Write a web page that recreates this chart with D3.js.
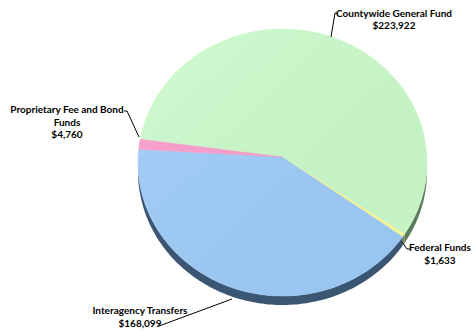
<!DOCTYPE html>
<html>
<head>
<meta charset="utf-8">
<script src="https://cdn.jsdelivr.net/npm/d3@7"></script>
<style>
  body { margin: 0; background: #fff; }
  .lbl { font-family: Lato, "Open Sans", sans-serif; font-weight: bold; font-size: 10px; fill: #000; }
</style>
</head>
<body>
<svg id="chart" width="473" height="331"></svg>
<script>
var categories = ["Countywide General Fund", "Federal Funds", "Interagency Transfers", "Proprietary Fee and Bond Funds"];
var values = [223922, 1633, 168099, 4760];
var topColors = ["#ccfccc", "#fcfc9c", "#9ecdfa", "#fc9ccc"];
var sideColors = ["#5b7c5b", "#7c7c4c", "#3b5673", "#7c4c64"];

var svg = d3.select("#chart");

var cx = 282.5, cy = 162.5
  , rx = 144.5, ry = 133.5
  , ax = 282, ay = 157   // point where slices meet
  , depth = 9;

function rim(a) { return [cx + rx * Math.sin(a), cy - ry * Math.cos(a)]; }

var rad = Math.PI / 180;
var pie = d3.pie().sort(null)
    .startAngle(-80 * rad)
    .endAngle(280 * rad);
var arcs = pie(values);

var defs = svg.append("defs");
var shade = defs.append("linearGradient").attr("id", "shade")
    .attr("x1", 0).attr("y1", 0).attr("x2", 1).attr("y2", 1);
shade.append("stop").attr("offset", 0).attr("stop-color", "#fff").attr("stop-opacity", 0.12);
shade.append("stop").attr("offset", 1).attr("stop-color", "#000").attr("stop-opacity", 0.03);

function arcPts(a0, a1, dy) {
  var n = Math.max(2, Math.ceil((a1 - a0) / (1 * rad)));
  return d3.range(n + 1).map(function(i) {
    var p = rim(a0 + (a1 - a0) * i / n);
    return [p[0], p[1] + dy];
  });
}

// side walls (front half only)
var sides_g = svg.append("g");
arcs.forEach(function(d, i) {
  [[90, 270], [450, 630]].forEach(function(r) {
    var a0 = Math.max(d.startAngle, r[0] * rad), a1 = Math.min(d.endAngle, r[1] * rad);
    if (a1 <= a0) return;
    var pts = arcPts(a0, a1, 0).concat(arcPts(a0, a1, depth).reverse());
    sides_g.append("path")
        .attr("d", d3.line()(pts) + "Z")
        .attr("fill", sideColors[i]);
  });
});

// top face
var face_g = svg.append("g");
arcs.forEach(function(d, i) {
  var pts = [[ax, ay]].concat(arcPts(d.startAngle, d.endAngle, 0));
  face_g.append("path")
      .attr("d", d3.line()(pts) + "Z")
      .attr("fill", topColors[i])
      .attr("stroke", topColors[i])
      .attr("stroke-width", 0.5);
});
face_g.append("ellipse")
    .attr("cx", cx).attr("cy", cy).attr("rx", rx).attr("ry", ry)
    .attr("fill", "url(#shade)");

// labels and leader lines
var labels = [
  { lines: ["Countywide General Fund", "$223,922"], x: 394, y: 16.5, leader: [[331, 37], [335, 13], [338, 13]] },
  { lines: ["Federal Funds", "$1,633"], x: 440, y: 251, leader: [[402, 242], [407, 249], [410, 249]] },
  { lines: ["Interagency Transfers", "$168,099"], x: 140, y: 314, leader: [[232, 299], [159, 326]] },
  { lines: ["Proprietary Fee and Bond", "Funds", "$4,760"], x: 67, y: 113, leader: [[139, 137], [127, 111], [124, 111]] }
];

labels.forEach(function(l) {
  svg.append("path")
      .attr("d", d3.line()(l.leader))
      .attr("fill", "none")
      .attr("stroke", "#000")
      .attr("stroke-width", 1);
  var t = svg.append("text").attr("class", "lbl").attr("text-anchor", "middle");
  l.lines.forEach(function(s, k) {
    t.append("tspan").attr("x", l.x).attr("y", l.y + k * 12.5).text(s);
  });
});
</script>
</body>
</html>
